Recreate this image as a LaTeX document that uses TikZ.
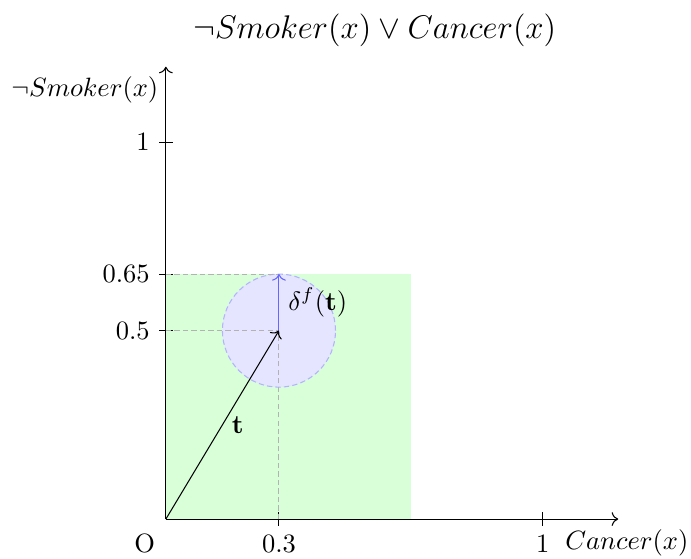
\documentclass[tikz,border=0pt]{standalone}
\usepackage{amsmath}
\usetikzlibrary{arrows.meta,positioning,calc}

\begin{document}
\begin{tikzpicture}[x=5cm,y=5cm,
    helper/.style={gray!60,dash pattern=on 2pt off 1.2pt},
    tickmark/.style={black}]
        \useasboundingbox (-0.44,-0.1034) rectangle (1.393,1.377);
        \coordinate (O) at (0,0);
        \coordinate (xend) at (1.2,0);
        \coordinate (yend) at (0,1.2);
        \coordinate (tpt) at (0.3,0.5);
        \coordinate (tx) at (0.3,0);
        \coordinate (ty) at (0,0.5);
        \coordinate (dtop) at (0.3,0.65);
        \coordinate (dy) at (0,0.65);
        % regions
        \fill[green!15] (O) rectangle (0.65,0.65);
        \fill[blue!10] (tpt) circle (0.15);
        \draw[blue!30,dash pattern=on 2pt off 1.2pt] (tpt) circle (0.15);
        % axes
        \draw[->] (O) -- (xend);
        \draw[->] (O) -- (yend);
        \node[scale=1.03] (title) at (0.554,1.297) {\large $\neg Smoker(x) \lor Cancer(x)$};
        \node (xlabel) at (1.223,-0.064) {$Cancer(x)$};
        \node (ylabel) at (-0.215,1.138) {$\neg Smoker(x)$};
        \node (orig) at (-0.056,-0.064) {O};
        % ticks
        \draw[tickmark] (0.3,-0.018) -- (0.3,0.018);
        \draw[tickmark] (1,-0.018) -- (1,0.018);
        \draw[tickmark] (-0.018,0.5) -- (0.018,0.5);
        \draw[tickmark] (-0.018,0.65) -- (0.018,0.65);
        \draw[tickmark] (-0.018,1) -- (0.018,1);
        \node[below] (xt03) at (0.3,-0.018) {$0.3$};
        \node[below] (xt1) at (1,-0.018) {$1$};
        \node[left] (yt05) at (-0.018,0.5) {$0.5$};
        \node[left] (yt065) at (-0.018,0.65) {$0.65$};
        \node[left] (yt1) at (-0.018,1) {$1$};
        % guides
        \draw[helper] (dy) -- (dtop);
        \draw[helper] (ty) -- (tpt);
        \draw[helper] (tx) -- (tpt);
        % vectors
        \draw[->,blue!60] (tpt) -- (dtop) node[midway,right] (dlab) {\color{black}$\delta^f(\mathbf{t})$};
        \draw[->] (O) -- (tpt) node[midway,right] (tlab) {$\mathbf{t}$};
      \end{tikzpicture}
\end{document}
